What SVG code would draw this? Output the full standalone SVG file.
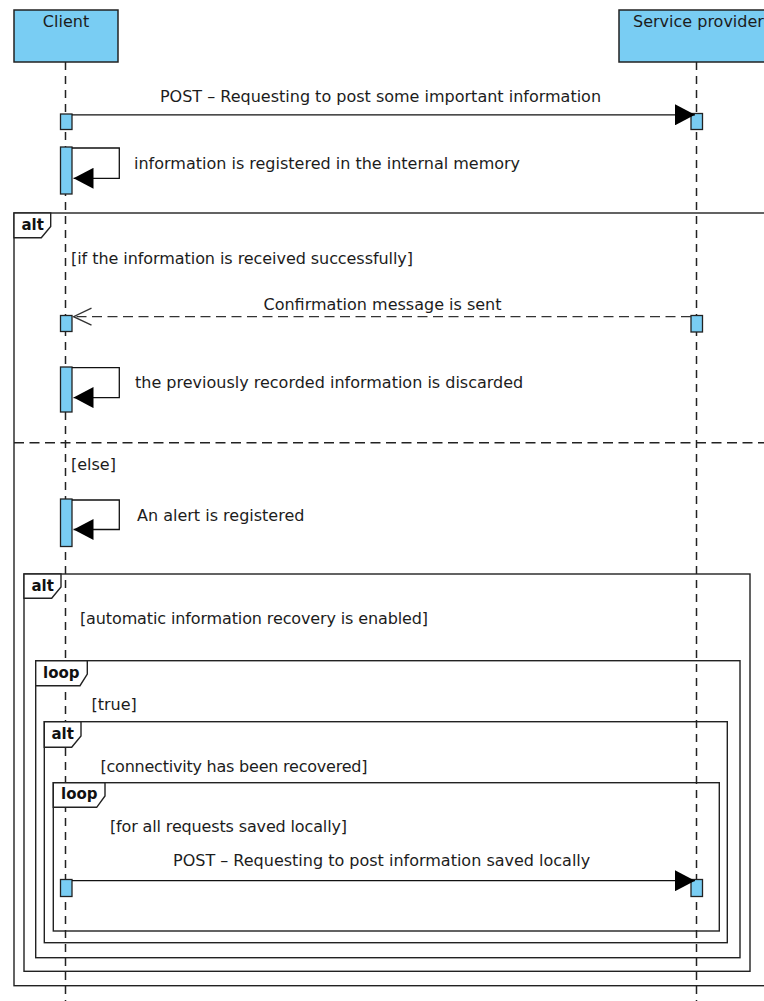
<svg xmlns="http://www.w3.org/2000/svg" width="764" height="1001" viewBox="0 0 764 1001">
  <style>
    .txt { font-family: "DejaVu Sans", "Liberation Sans", sans-serif; font-size: 16px; fill: #1c1c1c; }
    .tag { font-family: "DejaVu Sans", "Liberation Sans", sans-serif; font-size: 15px; font-weight: bold; fill: #111; }
    .head { fill: #79CDF3; stroke: #222; stroke-width: 1.5; }
    .act { fill: #79CDF3; stroke: #222; stroke-width: 1.3; }
    .life { stroke: #222; stroke-width: 1.5; stroke-dasharray: 8 6; fill: none; }
    .frame { fill: none; stroke: #222; stroke-width: 1.4; }
    .tagbox { fill: #fff; stroke: #222; stroke-width: 1.4; }
    .sep { stroke: #222; stroke-width: 1.4; stroke-dasharray: 10 5.5; fill: none; }
    .msg { stroke: #111; stroke-width: 1.3; fill: none; }
    .reply { stroke: #333; stroke-width: 1.3; stroke-dasharray: 10 5.5; fill: none; }
  </style>
  <defs>
    <marker id="filled" markerWidth="20" markerHeight="21" refX="20" refY="10.5" orient="auto" markerUnits="userSpaceOnUse">
      <path d="M0,0 L20,10.5 L0,21 z" fill="#000"/>
    </marker>
    <marker id="open" markerWidth="20" markerHeight="20" refX="18" refY="9" orient="auto" markerUnits="userSpaceOnUse">
      <path d="M0,0.5 L18,9 L0,17.5" fill="none" stroke="#333" stroke-width="1.3" stroke-dasharray="none"/>
    </marker>
  </defs>

  <!-- combined fragments -->
  <g id="fragments">
    <rect class="frame" x="14" y="213" width="790" height="772.7"/>
    <line class="sep" x1="14" y1="442.7" x2="790" y2="442.7"/>
    <rect class="frame" x="24" y="574" width="726" height="397.3"/>
    <rect class="frame" x="35.7" y="660.7" width="704.3" height="297"/>
    <rect class="frame" x="44.3" y="721.7" width="683" height="221"/>
    <rect class="frame" x="53.3" y="782.7" width="666" height="148.3"/>
  </g>

  <!-- lifelines -->
  <g id="lifelines">
    <line class="life" x1="65.5" y1="62" x2="65.5" y2="1001"/>
    <line class="life" x1="696.5" y1="62" x2="696.5" y2="1001"/>
  </g>

  <!-- fragment operator tags -->
  <g id="alt-outer">
    <path class="tagbox" d="M14,213 H50.7 V226.5 L41.3,237.7 H14 Z"/>
    <text class="tag" x="21.5" y="230">alt</text>
  </g>
  <g id="alt-recovery">
    <path class="tagbox" d="M24,574 H61 V587 L51.7,598.3 H24 Z"/>
    <text class="tag" x="31.5" y="590.5">alt</text>
  </g>
  <g id="loop-true">
    <path class="tagbox" d="M35.7,660.7 H87.3 V674 L80,685.7 H35.7 Z"/>
    <text class="tag" x="43" y="678">loop</text>
  </g>
  <g id="alt-connectivity">
    <path class="tagbox" d="M44.3,721.7 H81 V736 L71.7,747.3 H44.3 Z"/>
    <text class="tag" x="51.5" y="738.5">alt</text>
  </g>
  <g id="loop-requests">
    <path class="tagbox" d="M53.3,782.7 H105 V796 L96.7,807.3 H53.3 Z"/>
    <text class="tag" x="61" y="799">loop</text>
  </g>

  <!-- participants -->
  <g id="client">
    <rect class="head" x="14" y="10" width="104" height="52"/>
    <text class="txt" x="66" y="27" text-anchor="middle">Client</text>
  </g>
  <g id="service-provider">
    <rect class="head" x="619" y="10" width="170" height="52"/>
    <text class="txt" x="633" y="27">Service provider</text>
  </g>

  <!-- execution specifications -->
  <g id="activations">
    <rect class="act" x="60.5" y="114" width="11.5" height="15.5"/>
    <rect class="act" x="691" y="113.5" width="11.5" height="16"/>
    <rect class="act" x="60.5" y="147" width="11.5" height="47"/>
    <rect class="act" x="60.5" y="315.5" width="11.5" height="16"/>
    <rect class="act" x="691" y="315.5" width="11.5" height="16.5"/>
    <rect class="act" x="60.5" y="367" width="11.5" height="45"/>
    <rect class="act" x="60.5" y="499" width="11.5" height="47.5"/>
    <rect class="act" x="60.5" y="879.5" width="11.5" height="17"/>
    <rect class="act" x="691" y="879.5" width="11.5" height="17"/>
  </g>

  <!-- messages -->
  <g id="connectors">
    <line class="msg" x1="72" y1="114.8" x2="695" y2="114.8" marker-end="url(#filled)"/>
    <path class="msg" d="M72,148 H119.3 V178.3 H73.5" marker-end="url(#filled)"/>
    <line class="reply" x1="691" y1="316.7" x2="73.5" y2="316.7" marker-end="url(#open)"/>
    <path class="msg" d="M72,367.7 H119.3 V397.6 H73.5" marker-end="url(#filled)"/>
    <path class="msg" d="M72,500 H119.3 V529.5 H73.5" marker-end="url(#filled)"/>
    <line class="msg" x1="72" y1="880.7" x2="695" y2="880.7" marker-end="url(#filled)"/>
  </g>

  <!-- message labels and guards -->
  <g id="labels">
    <text class="txt" x="380.5" y="102" text-anchor="middle">POST – Requesting to post some important information</text>
    <text class="txt" x="134" y="168.5">information is registered in the internal memory</text>
    <text class="txt" x="71" y="263.5" textLength="342">[if the information is received successfully]</text>
    <text class="txt" x="382.5" y="310" text-anchor="middle">Confirmation message is sent</text>
    <text class="txt" x="135" y="387.5">the previously recorded information is discarded</text>
    <text class="txt" x="71" y="470">[else]</text>
    <text class="txt" x="137" y="521">An alert is registered</text>
    <text class="txt" x="80" y="624" textLength="348">[automatic information recovery is enabled]</text>
    <text class="txt" x="91.5" y="710">[true]</text>
    <text class="txt" x="100.5" y="772" textLength="267">[connectivity has been recovered]</text>
    <text class="txt" x="110" y="832" textLength="237">[for all requests saved locally]</text>
    <text class="txt" x="173" y="866">POST – Requesting to post information saved locally</text>
  </g>
</svg>
